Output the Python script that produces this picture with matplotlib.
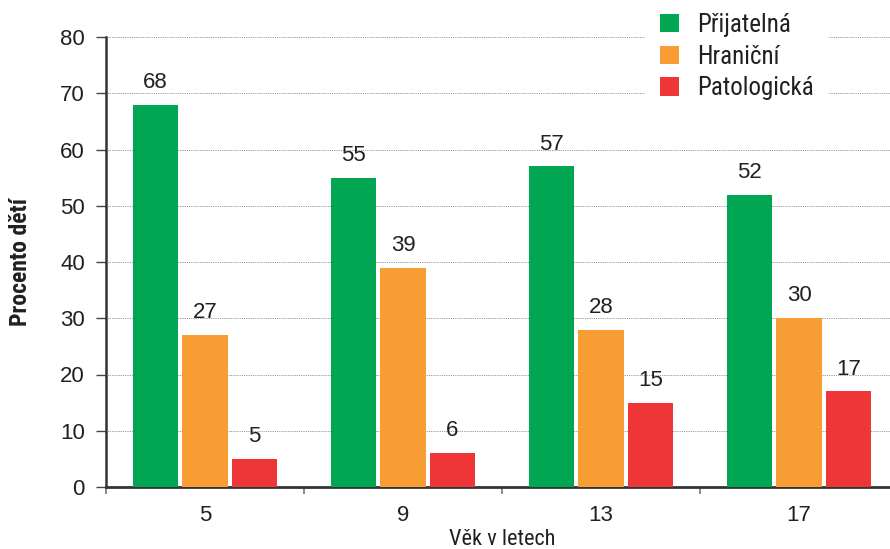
import matplotlib
matplotlib.use("Agg")

import matplotlib.pyplot as plt
import numpy as np

ages = ["5", "9", "13", "17"]
series_names = ["Přijatelná", "Hraniční", "Patologická"]
prijatelna = [68, 55, 57, 52]
hranicni = [27, 39, 28, 30]
patologicka = [5, 6, 15, 17]
colors = ["#00a651", "#f89c34", "#ee3537"]

TEXT = "#231f20"
NUM_FONT = ["Liberation Sans", "DejaVu Sans"]
COND_FONT = ["Roboto Condensed", "Liberation Sans", "DejaVu Sans"]

plt.rcParams["font.family"] = COND_FONT


def main() -> None:
    fig = plt.figure(figsize=(8.9, 5.49), dpi=100)
    ax = fig.add_axes([106 / 890, 62 / 549, 792 / 890, 450 / 549])

    x = np.arange(len(ages))
    width = 0.232
    offsets = [-0.25, 0.0, 0.25]
    for values, name, color, off in zip(
        [prijatelna, hranicni, patologicka], series_names, colors, offsets
    ):
        bars = ax.bar(x + off, values, width, color=color, label=name, zorder=3)
        for rect, v in zip(bars, values):
            ax.annotate(
                f"{v}",
                (rect.get_x() + rect.get_width() / 2, rect.get_height()),
                xytext=(0, 8.5),
                textcoords="offset points",
                ha="center",
                va="bottom",
                fontsize=16,
                family=NUM_FONT,
                color=TEXT,
            )

    ax.set_xlim(-0.5, 3.5)
    ax.set_ylim(0, 80)
    ax.set_yticks(range(0, 81, 10))
    ax.set_xticks(x)
    ax.set_xticklabels(ages)
    ax.set_xticks(np.arange(-0.5, 3.6, 1.0), minor=True)
    for lbl in ax.get_xticklabels() + ax.get_yticklabels():
        lbl.set_family(NUM_FONT)

    ax.tick_params(axis="y", direction="out", length=7.2, width=1.0,
                   color="#444444", labelsize=16, labelcolor=TEXT, pad=8)
    ax.tick_params(axis="x", which="major", length=0, labelsize=16,
                   labelcolor=TEXT, pad=13)
    ax.tick_params(axis="x", which="minor", direction="out", length=5,
                   width=1.2, color="#777777")

    ax.yaxis.grid(True, linestyle=(0, (1, 1.2)), color="#777777", linewidth=0.6, zorder=0)
    ax.set_axisbelow(True)

    for side in ["top", "right"]:
        ax.spines[side].set_visible(False)
    ax.spines["left"].set_color("#333333")
    ax.spines["left"].set_linewidth(1.8)
    ax.spines["bottom"].set_color("#333333")
    ax.spines["bottom"].set_linewidth(2.0)

    ax.set_ylabel("Procento dětí", fontsize=17, fontweight="bold", color=TEXT, labelpad=20)
    ax.set_xlabel("Věk v letech", fontsize=16, color=TEXT, labelpad=2)

    leg = ax.legend(
        loc="upper left",
        bbox_to_anchor=(539 / 792, 1.087),
        borderaxespad=0,
        frameon=True,
        facecolor="white",
        edgecolor="none",
        framealpha=1.0,
        fancybox=False,
        fontsize=18,
        borderpad=0.6,
        handlelength=0.76,
        handleheight=0.76,
        handletextpad=0.72,
        labelspacing=0.31,
    )
    for t in leg.get_texts():
        t.set_color(TEXT)
    leg.set_zorder(5)

    fig.savefig("out.png", dpi=100)
    plt.close(fig)


if __name__ == "__main__":
    main()
